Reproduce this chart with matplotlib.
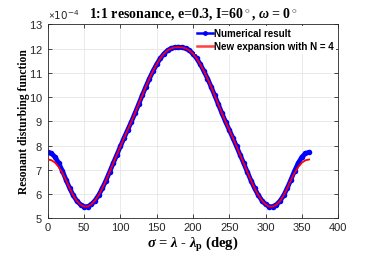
import numpy as np
import matplotlib
matplotlib.use("Agg")
import matplotlib.pyplot as plt
from matplotlib.ticker import ScalarFormatter, MultipleLocator
from matplotlib.lines import Line2D

# sigma (deg)
sigma = list(range(0, 365, 5))

# Numerical result (units of 1e-4)
numerical = [7.73, 7.68, 7.53, 7.28, 6.96, 6.60, 6.25, 5.95, 5.72, 5.57,
             5.49, 5.49, 5.58, 5.74, 5.96, 6.24, 6.56, 6.91, 7.27, 7.62,
             7.97, 8.32, 8.65, 8.98, 9.33, 9.70, 10.07, 10.43, 10.77, 11.08,
             11.36, 11.60, 11.79, 11.93, 12.01, 12.05, 12.06,
             12.05, 12.01, 11.93, 11.79, 11.60, 11.36, 11.08, 10.77, 10.43,
             10.07, 9.70, 9.33, 8.98, 8.65, 8.32, 7.97, 7.62, 7.27, 6.91,
             6.56, 6.24, 5.96, 5.74, 5.58, 5.49, 5.49, 5.57, 5.72, 5.95,
             6.25, 6.60, 6.96, 7.28, 7.53, 7.68, 7.73]

# New expansion with N = 4 (units of 1e-4)
expansion = [7.43, 7.40, 7.30, 7.12, 6.88, 6.58, 6.25, 5.95, 5.72, 5.57,
             5.49, 5.49, 5.58, 5.74, 5.96, 6.24, 6.56, 6.91, 7.27, 7.62,
             7.97, 8.32, 8.65, 8.98, 9.33, 9.70, 10.07, 10.43, 10.77, 11.08,
             11.36, 11.60, 11.79, 11.93, 12.01, 12.05, 12.06,
             12.05, 12.01, 11.93, 11.79, 11.60, 11.36, 11.08, 10.77, 10.43,
             10.07, 9.70, 9.33, 8.98, 8.65, 8.32, 7.97, 7.62, 7.27, 6.91,
             6.56, 6.24, 5.96, 5.74, 5.58, 5.49, 5.49, 5.57, 5.72, 5.95,
             6.25, 6.58, 6.88, 7.12, 7.30, 7.40, 7.43]

scale = 1e-4
title = r"1:1 resonance, e=0.3, I=60$^\circ$, $\omega$ = 0$^\circ$"
xlabel = r"$\sigma$ = $\lambda$ - $\lambda_{\rm p}$ (deg)"
ylabel = "Resonant disturbing function"
labels = ["Numerical result", "New expansion with N = 4"]

plt.rcParams['mathtext.fontset'] = 'custom'
plt.rcParams['mathtext.rm'] = 'Liberation Serif:bold'
plt.rcParams['mathtext.it'] = 'Liberation Serif:italic:bold'
plt.rcParams['mathtext.bf'] = 'Liberation Serif:bold'

fig = plt.figure(figsize=(3.74, 2.57), dpi=100)
ax = fig.add_axes([0.128, 0.150, 0.776, 0.755])

x = np.array(sigma)
ax.plot(x, np.array(numerical) * scale, color='#0000ff', linewidth=3.4,
        marker='o', markersize=4.0, markeredgewidth=0, zorder=2,
        solid_capstyle='round')
ax.plot(x, np.array(expansion) * scale, color='#ff0000', linewidth=1.3,
        zorder=3)

ax.set_xlim(0, 400)
ax.set_ylim(5e-4, 13e-4)
ax.xaxis.set_major_locator(MultipleLocator(50))
ax.yaxis.set_major_locator(MultipleLocator(1e-4))
fmt = ScalarFormatter(useMathText=True)
fmt.set_powerlimits((-4, -4))
ax.yaxis.set_major_formatter(fmt)

ax.grid(True, color='#e6e6e6', linewidth=0.6)
ax.set_axisbelow(True)
for s in ax.spines.values():
    s.set_color('#262626')
    s.set_linewidth(0.6)
ax.tick_params(direction='in', length=3, width=0.6, colors='#262626',
               labelsize=8, top=True, right=True)
for lab in ax.get_xticklabels() + ax.get_yticklabels():
    lab.set_family('Liberation Sans')
ax.yaxis.get_offset_text().set_fontsize(7.5)
ax.yaxis.get_offset_text().set_family('DejaVu Sans')
ax.yaxis.get_offset_text().set_color('#262626')

ax.set_title(title, fontsize=10, fontweight='bold', family='Liberation Serif',
             pad=5)
ax.set_xlabel(xlabel, fontsize=10.5, fontweight='bold', family='Liberation Serif',
              labelpad=1)
ax.set_ylabel(ylabel, fontsize=8.3, fontweight='bold', family='Liberation Serif',
              labelpad=-1)

handles = [Line2D([], [], color='#0000ff', linewidth=1.8, marker='o',
                  markersize=3.5, markeredgewidth=0),
           Line2D([], [], color='#ff4040', linewidth=1.8)]
leg = ax.legend(handles, labels, loc='upper right', bbox_to_anchor=(1.0, 1.0),
                prop={'family': 'Liberation Sans', 'weight': 'bold', 'size': 7},
                frameon=True, fancybox=False, handlelength=1.6,
                handletextpad=0.15, borderpad=0.25, labelspacing=0.3,
                borderaxespad=0.2)
leg.get_frame().set_edgecolor('none')
leg.get_frame().set_facecolor('white')
leg.get_frame().set_alpha(1.0)

fig.savefig('out.png', dpi=100)
